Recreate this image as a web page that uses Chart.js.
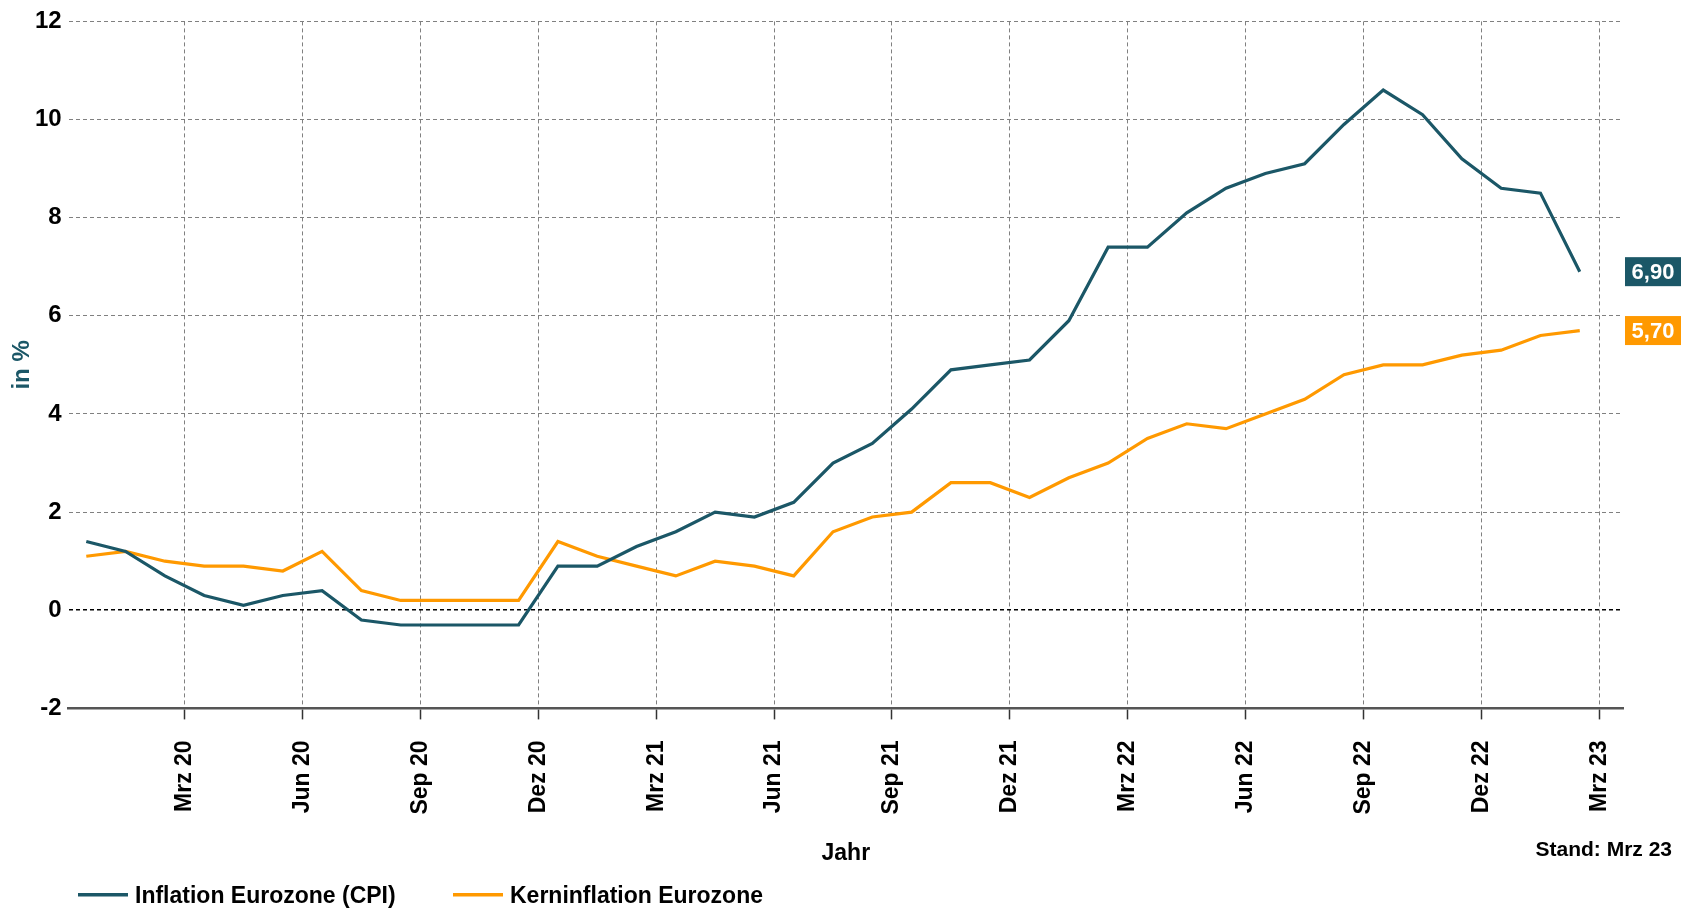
<!DOCTYPE html>
<html>
<head>
<meta charset="utf-8">
<script src="https://cdn.jsdelivr.net/npm/chart.js@4.4.1/dist/chart.umd.min.js"></script>
<style>
  html, body { margin: 0; padding: 0; background: #fff; }
  #wrap { width: 1681px; height: 911px; }
</style>
</head>
<body>
<div id="wrap"><canvas id="inflationChart" width="1681" height="911"></canvas></div>
<script>
(function() {
    "use strict";

    // x axis quarter labels
    const tickLabels = ['Mrz 20', 'Jun 20', 'Sep 20', 'Dez 20', 'Mrz 21', 'Jun 21', 'Sep 21',
                        'Dez 21', 'Mrz 22', 'Jun 22', 'Sep 22', 'Dez 22', 'Mrz 23'];

    // monthly values Jan 20 .. Mrz 23
    const cpiValues = [1.4, 1.2, 0.7, 0.3, 0.1, 0.3, 0.4, -0.2, -0.3, -0.3, -0.3, -0.3,
                       0.9, 0.9, 1.3, 1.6, 2.0, 1.9, 2.2, 3.0, 3.4, 4.1, 4.9, 5.0,
                       5.1, 5.9, 7.4, 7.4, 8.1, 8.6, 8.9, 9.1, 9.9, 10.6, 10.1, 9.2,
                       8.6, 8.5, 6.9];
    const coreValues = [1.1, 1.2, 1.0, 0.9, 0.9, 0.8, 1.2, 0.4, 0.2, 0.2, 0.2, 0.2,
                        1.4, 1.1, 0.9, 0.7, 1.0, 0.9, 0.7, 1.6, 1.9, 2.0, 2.6, 2.6,
                        2.3, 2.7, 3.0, 3.5, 3.8, 3.7, 4.0, 4.3, 4.8, 5.0, 5.0, 5.2,
                        5.3, 5.6, 5.7];

    const seriesNames = ['Inflation Eurozone (CPI)', 'Kerninflation Eurozone'];
    const seriesColors = ['#1b5767', '#ff9900'];
    const standText = 'Stand: Mrz 23';

    const fontFamily = "'Liberation Sans', Arial, sans-serif";
    Chart.defaults.font.family = fontFamily;

    function toPoints(values) {
        return values.map(function(v, i) { return {x: i, y: v}; });
    }

    // value badges at the right, legend and "Stand" note
    const extrasPlugin = {
        id: 'extras',
        afterDatasetsDraw: function(chart) {
            const ctx = chart.ctx;
            const yScale = chart.scales.y;
            ctx.save();
            ctx.font = 'bold 22px ' + fontFamily;
            ctx.textAlign = 'center';
            ctx.textBaseline = 'middle';
            chart.data.datasets.forEach(function(ds, i) {
                const last = ds.data[ds.data.length - 1].y;
                const y = yScale.getPixelForValue(last);
                ctx.fillStyle = seriesColors[i];
                ctx.fillRect(1625, y - 14.5, 56, 29);
                ctx.fillStyle = '#fff';
                ctx.fillText(last.toFixed(2).replace('.', ','), 1653, y + 1);
            });

            // legend
            const legendX = [78, 453];
            ctx.font = 'bold 23px ' + fontFamily;
            ctx.textAlign = 'left';
            seriesNames.forEach(function(name, i) {
                ctx.fillStyle = seriesColors[i];
                ctx.fillRect(legendX[i], 893, 50, 3.5);
                ctx.fillStyle = '#000';
                ctx.fillText(name, legendX[i] + 57, 897);
            });

            ctx.font = 'bold 21px ' + fontFamily;
            ctx.textAlign = 'right';
            ctx.fillText(standText, 1672, 850);
            ctx.restore();
        }
    };

    const ctx = document.getElementById('inflationChart').getContext('2d');
    const inflationChart = new Chart(ctx, {
        type: 'line',
        data: {
            datasets: [
                {
                    label: seriesNames[0],
                    data: toPoints(cpiValues),
                    borderColor: seriesColors[0],
                    backgroundColor: seriesColors[0],
                    borderWidth: 3.2,
                    pointRadius: 0,
                    tension: 0
                },
                {
                    label: seriesNames[1],
                    data: toPoints(coreValues),
                    borderColor: seriesColors[1],
                    backgroundColor: seriesColors[1],
                    borderWidth: 3.2,
                    pointRadius: 0,
                    tension: 0
                }
            ]
        },
        options: {
            responsive: false,
            animation: false,
            devicePixelRatio: 1,
            layout: {
                padding: {top: 16.5, right: 58, bottom: 41, left: 0}
            },
            plugins: {
                legend: {display: false},
                tooltip: {enabled: false}
            },
            scales: {
                x: {
                    type: 'linear',
                    min: -0.45,
                    max: 39.1,
                    afterBuildTicks: function(scale) {
                        scale.ticks = tickLabels.map(function(l, i) { return {value: 2.5 + 3 * i}; });
                    },
                    afterFit: function(scale) {
                        scale.height = 161.6;
                    },
                    ticks: {
                        autoSkip: false,
                        minRotation: 90,
                        maxRotation: 90,
                        padding: 21,
                        color: '#000',
                        font: {size: 23, weight: 'bold'},
                        callback: function(value, index) {
                            return tickLabels[index];
                        }
                    },
                    grid: {
                        color: '#808080',
                        lineWidth: 1,
                        drawTicks: true,
                        tickLength: 11,
                        tickColor: '#333',
                        tickWidth: 1.5,
                        tickBorderDash: []
                    },
                    border: {display: true, color: '#555', width: 2.5, dash: [4, 3]},
                    title: {
                        display: true,
                        text: 'Jahr',
                        color: '#000',
                        font: {size: 23, weight: 'bold'},
                        padding: {top: 0, bottom: 3}
                    }
                },
                y: {
                    min: -2,
                    max: 12,
                    afterFit: function(scale) {
                        scale.width = 68.6;
                    },
                    ticks: {
                        stepSize: 2,
                        padding: 7,
                        color: '#000',
                        font: {size: 24, weight: 'bold'},
                        callback: function(value) { return String(value); }
                    },
                    grid: {
                        color: function(c) { return c.tick && c.tick.value === 0 ? '#000' : '#808080'; },
                        lineWidth: function(c) { return c.tick && c.tick.value === 0 ? 1.6 : 1; },
                        drawTicks: false
                    },
                    border: {display: false, dash: [4, 3]},
                    title: {
                        display: true,
                        text: 'in %',
                        color: '#1b5767',
                        font: {size: 24, weight: 'bold'},
                        padding: {top: 8, bottom: 0}
                    }
                }
            }
        },
        plugins: [extrasPlugin]
    });
})();
</script>
</body>
</html>
